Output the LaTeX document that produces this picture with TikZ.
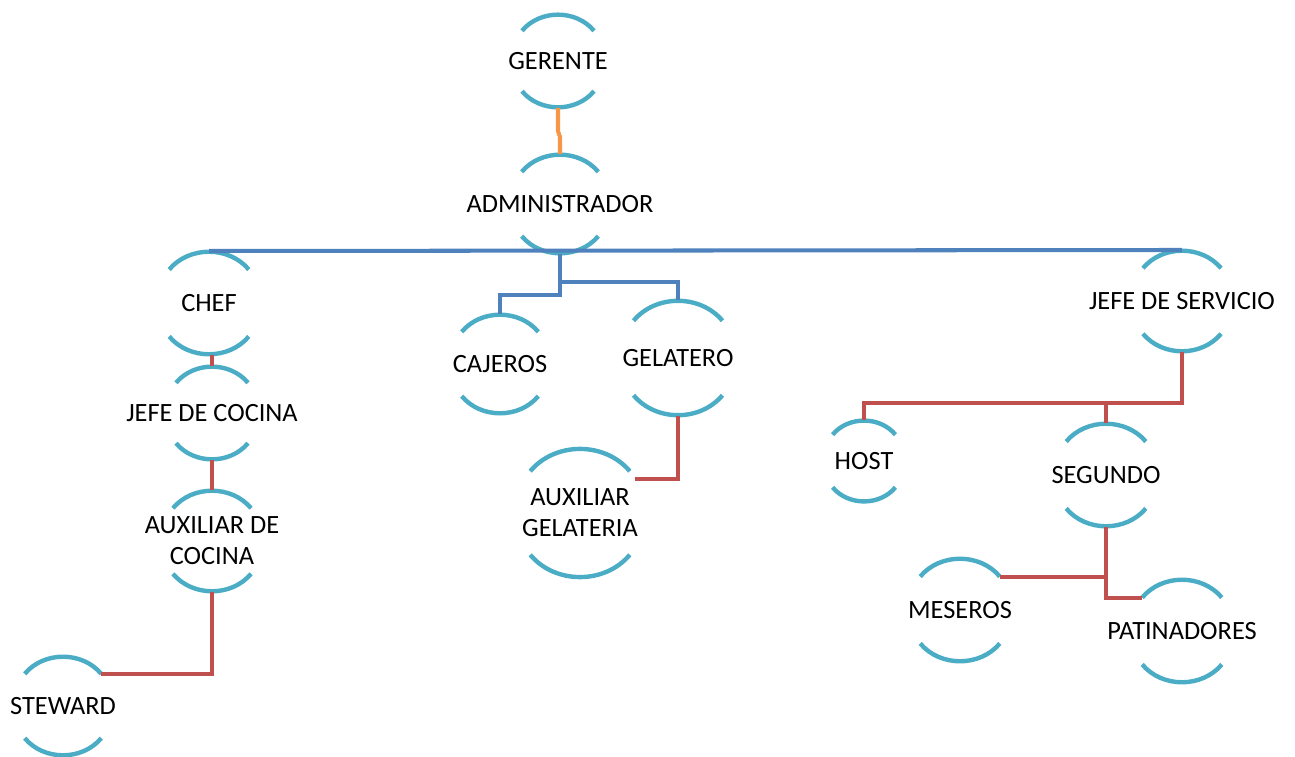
\documentclass[tikz,border=0pt]{standalone}
\usepackage{fontspec}
\setmainfont{Carlito}
\definecolor{arcblue}{HTML}{4BACC6}
\definecolor{lineblue}{HTML}{4F81BD}
\definecolor{linered}{HTML}{C0504D}
\definecolor{lineorange}{HTML}{F79646}
\begin{document}
\begin{tikzpicture}[
unit/.style={circle, inner sep=0pt, outer sep=0pt, minimum size=#1},
txt/.style={font=\fontsize{15}{17.5}\selectfont, align=center, text=black},
arcline/.style={line width=2.5pt, arcblue},
blueline/.style={line width=2.3pt, lineblue},
redline/.style={line width=2.3pt, linered},
orangeline/.style={line width=2.3pt, lineorange}
]
\useasboundingbox (0,0) rectangle (25.9,15.12);
% top
\node[unit=1.88cm, label={[txt]center:GERENTE}] (ger) at (11.16,13.90) {};
\node[unit=2.0cm, label={[txt]center:ADMINISTRADOR}] (adm) at (11.20,11.04) {};
% kitchen
\node[unit=2.08cm, label={[txt]center:CHEF}] (chef) at (4.18,9.06) {};
\node[unit=1.88cm, label={[txt]center:JEFE DE COCINA}] (jcoc) at (4.24,6.86) {};
\node[unit=2.04cm, label={[txt]center:AUXILIAR DE\\COCINA}] (auxc) at (4.24,4.30) {};
\node[unit=2.0cm, label={[txt]center:STEWARD}] (stew) at (1.26,1.00) {};
% counter
\node[unit=2.0cm, label={[txt]center:CAJEROS}] (caj) at (10.00,7.84) {};
\node[unit=2.32cm, label={[txt]center:GELATERO}] (gel) at (13.56,7.96) {};
\node[unit=2.6cm, label={[txt]center:AUXILIAR\\GELATERIA}] (auxg) at (11.60,4.86) {};
% service
\node[unit=2.04cm, label={[txt]center:JEFE DE SERVICIO}] (jser) at (23.64,9.10) {};
\node[unit=1.64cm, label={[txt]center:HOST}] (host) at (17.28,5.90) {};
\node[unit=2.08cm, label={[txt]center:SEGUNDO}] (seg) at (22.12,5.62) {};
\node[unit=2.08cm, label={[txt]center:MESEROS}] (mes) at (19.20,2.92) {};
\node[unit=2.08cm, label={[txt]center:PATINADORES}] (pat) at (23.64,2.50) {};

\foreach \n in {ger,adm,chef,jcoc,auxc,stew,caj,gel,auxg,jser,host,seg,mes,pat} {
  \draw[arcline] (\n.40) to[out=130, in=50] (\n.140);
  \draw[arcline] (\n.-140) to[out=-50, in=-130] (\n.-40);
}

\draw[orangeline] (ger.south) -- ++(0,-0.46) -- ([yshift=0.34cm]adm.north) -- (adm.north);
\draw[blueline] (chef.north) -- (jser.north);
\draw[blueline] (adm.south) -- ++(0,-0.82) -| (caj.north);
\draw[blueline] (adm.south) -- ++(0,-0.56) -| (gel.north);
\draw[redline] (jcoc.north) -- (jcoc.north |- chef.south);
\draw[redline] (jcoc.south) -- (auxc.north);
\draw[redline] (auxc.south) |- (stew.40);
\draw[redline] (gel.south) |- (auxg.32);
\draw[redline] (jser.south) -- ++(0,-1.02) coordinate (sj) -| (host.north);
\draw[redline] (sj -| seg.north) -- (seg.north);
\draw[redline] (seg.south) |- (pat.140);
\draw[redline] (mes.40) -| (seg.south);
\end{tikzpicture}
\end{document}
